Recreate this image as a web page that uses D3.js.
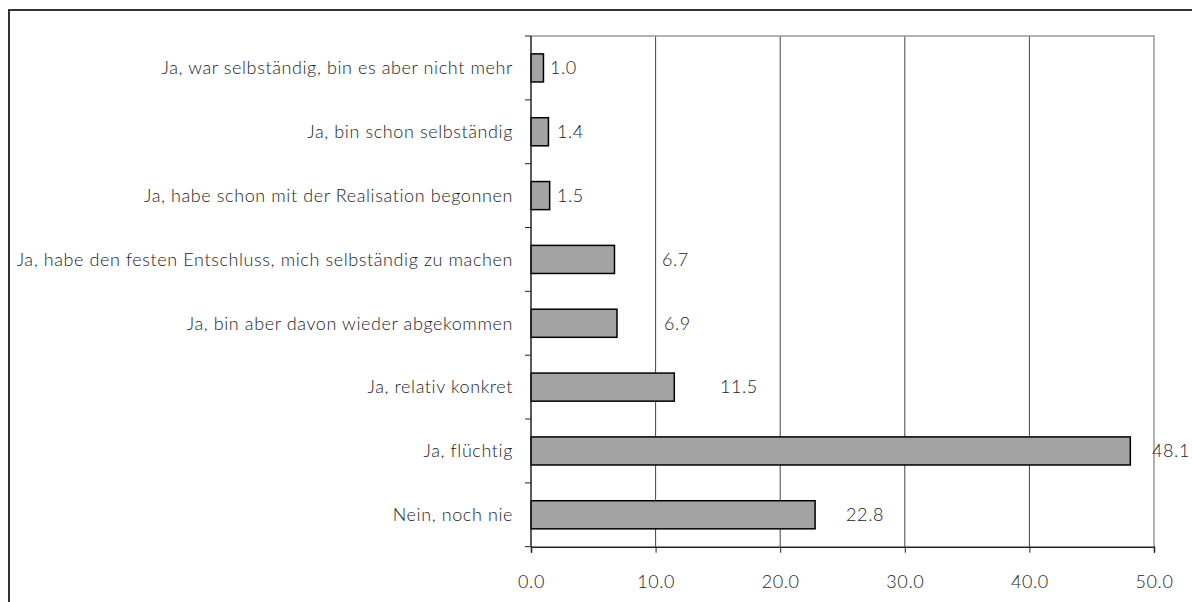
<!DOCTYPE html>
<html>
<head>
<meta charset="utf-8">
<script src="https://cdn.jsdelivr.net/npm/d3@7"></script>
<style>
  body { margin: 0; background: #fff; }
  svg text { font-family: Lato, "Open Sans", sans-serif; font-weight: 300; fill: #222; letter-spacing: 0.6px; }
</style>
</head>
<body>
<div id="chart"></div>
<script>
// DATA
// categories from top to bottom
var categories = [
    "Ja, war selbständig, bin es aber nicht mehr",
    "Ja, bin schon selbständig",
    "Ja, habe schon mit der Realisation begonnen",
    "Ja, habe den festen Entschluss, mich selbständig zu machen",
    "Ja, bin aber davon wieder abgekommen",
    "Ja, relativ konkret",
    "Ja, flüchtig",
    "Nein, noch nie"
];
var values = [1.0, 1.4, 1.5, 6.7, 6.9, 11.5, 48.1, 22.8];
var xTicks = [0, 10, 20, 30, 40, 50];

// label gap after bar end (px), the original puts them unevenly
var labelGap = [6.5, 8.6, 7.3, 47.5, 47, 45.7, 21.7, 31];

var width = 1192,
    height = 602,
    plot = { left: 531, right: 1154, top: 36, bottom: 546.7 };

var svg = d3.select("#chart").append("svg")
    .attr("width", width)
    .attr("height", height);

// outer frame
svg.append("rect")
    .attr("x", 9).attr("y", 10)
    .attr("width", width + 10).attr("height", height + 10)
    .attr("fill", "none")
    .attr("stroke", "#333")
    .attr("stroke-width", 2);

var x = d3.scaleLinear()
    .domain([0, 50])
    .range([plot.left, plot.right]);

var y = d3.scaleBand()
    .domain(categories)
    .range([plot.top, plot.bottom])
    .paddingInner(0.56)
    .paddingOuter(0.28);

// gridlines
svg.selectAll(".grid")
    .data(xTicks.slice(1, -1))
    .enter().append("line")
    .attr("class", "grid")
    .attr("x1", function(d) { return x(d); })
    .attr("x2", function(d) { return x(d); })
    .attr("y1", plot.top)
    .attr("y2", plot.bottom)
    .attr("stroke", "#444")
    .attr("stroke-width", 1);

// plot border top + right (gray)
svg.append("path")
    .attr("d", "M" + x(0) + "," + plot.top + "H" + x(50) + "V" + plot.bottom)
    .attr("fill", "none")
    .attr("stroke", "#999")
    .attr("stroke-width", 1.5);

// bars
svg.selectAll(".bar")
    .data(values)
    .enter().append("rect")
    .attr("class", "bar")
    .attr("x", x(0))
    .attr("y", function(d, i) { return y(categories[i]); })
    .attr("width", function(d) { return x(d) - x(0); })
    .attr("height", y.bandwidth())
    .attr("fill", "#a3a3a3")
    .attr("stroke", "#000")
    .attr("stroke-width", 1.5);

// value labels
svg.selectAll(".val")
    .data(values)
    .enter().append("text")
    .attr("class", "val")
    .attr("x", function(d, i) { return x(d) + labelGap[i]; })
    .attr("y", function(d, i) { return y(categories[i]) + y.bandwidth() / 2; })
    .attr("dy", "0.35em")
    .style("font-size", "18px")
    .text(function(d) { return d.toFixed(1); });

// x axis
var xAxis = svg.append("g")
    .attr("transform", "translate(0," + plot.bottom + ")")
    .call(d3.axisBottom(x).tickValues(xTicks).tickSize(6).tickPadding(23)
        .tickFormat(function(d) { return d.toFixed(1); }));
xAxis.select(".domain").attr("stroke", "#222").attr("stroke-width", 1.5);
xAxis.selectAll(".tick line").attr("stroke", "#222");
xAxis.selectAll("text").style("font-size", "18px").attr("fill", "#222");

// y axis: ticks sit between categories
var yAxis = svg.append("g")
    .attr("transform", "translate(" + plot.left + ",0)");
yAxis.append("line")
    .attr("y1", plot.top).attr("y2", plot.bottom)
    .attr("stroke", "#222").attr("stroke-width", 1.5);
yAxis.selectAll(".ytick")
    .data(d3.range(categories.length + 1))
    .enter().append("line")
    .attr("class", "ytick")
    .attr("x1", -6).attr("x2", 0)
    .attr("y1", function(i) { return plot.top + i * (plot.bottom - plot.top) / categories.length; })
    .attr("y2", function(i) { return plot.top + i * (plot.bottom - plot.top) / categories.length; })
    .attr("stroke", "#222");
yAxis.selectAll(".ylab")
    .data(categories)
    .enter().append("text")
    .attr("class", "ylab")
    .attr("x", -18)
    .attr("y", function(d) { return y(d) + y.bandwidth() / 2; })
    .attr("dy", "0.35em")
    .attr("text-anchor", "end")
    .style("font-size", "18px")
    .text(function(d) { return d; });
</script>
</body>
</html>
